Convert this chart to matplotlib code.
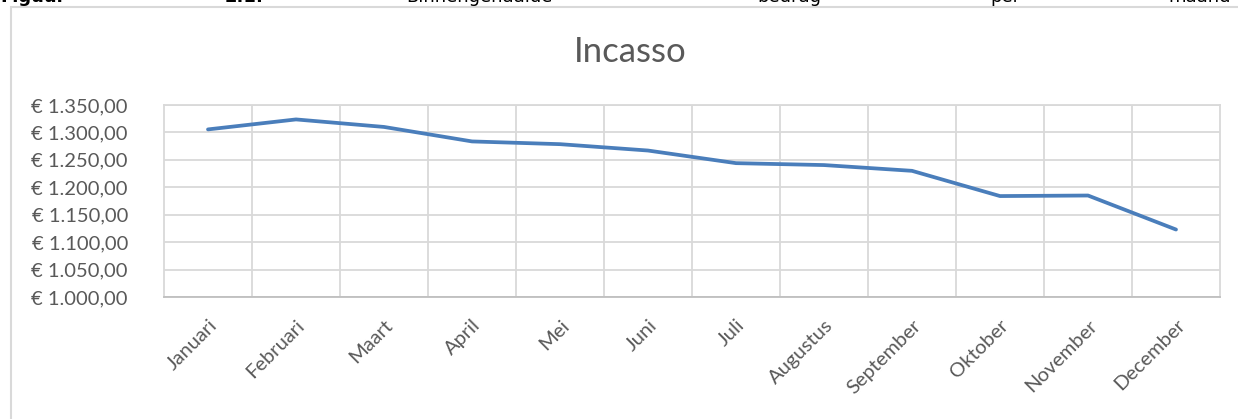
import matplotlib
matplotlib.use('Agg')
import matplotlib.pyplot as plt
from matplotlib.ticker import FuncFormatter, MultipleLocator
from matplotlib.patches import Rectangle

maanden = ['Januari', 'Februari', 'Maart', 'April', 'Mei', 'Juni', 'Juli',
           'Augustus', 'September', 'Oktober', 'November', 'December']
incasso = [1305.5, 1323.7, 1310.0, 1283.6, 1278.6, 1267.0,
           1244.0, 1240.5, 1230.0, 1184.0, 1185.0, 1123.0]
kop_woorden = ['Figuur', '2.1:', 'Binnengehaalde', 'bedrag', 'per', 'maand']

plt.rcParams['font.family'] = ['Lato', 'DejaVu Sans']

W, H = 1238, 419
fig = plt.figure(figsize=(W / 100, H / 100), dpi=100)

# caption line above the chart, cut off at the top edge like in the document
kop_x = [0, 225, 406, 757, 990, 1168]
for i, (w, x) in enumerate(zip(kop_woorden, kop_x)):
    fig.text(x / W, 1 - 2 / H, w, fontsize=13, color='black',
             fontweight='bold' if i < 2 else 'normal',
             family=['DejaVu Sans'], va='baseline', ha='left')

# chart frame
fig.patches.append(Rectangle((11 / W, -0.1), 1.2, 1.1 - 7 / H,
                             transform=fig.transFigure, fill=False,
                             edgecolor='#d9d9d9', linewidth=1.5))

ax = fig.add_axes([164 / W, 1 - 297 / H, (1220 - 164) / W, (297 - 105) / H])
x = list(range(len(maanden)))
ax.plot(x, incasso, color='#4a7ebb', linewidth=2.7, solid_capstyle='round',
        solid_joinstyle='round', zorder=3)

ax.set_xlim(-0.5, len(maanden) - 0.5)
ax.set_ylim(1000, 1350)
ax.yaxis.set_major_locator(MultipleLocator(50))


def euro(v, pos):
    s = '{:,.2f}'.format(v).replace(',', 'X').replace('.', ',').replace('X', '.')
    return '€ ' + s


ax.yaxis.set_major_formatter(FuncFormatter(euro))
ax.set_xticks([i + 0.5 for i in x[:-1]], minor=False)
ax.set_xticks(x, minor=True)
ax.set_xticklabels([])
ax.set_xticklabels(maanden, minor=True, rotation=45, ha='right',
                   rotation_mode='anchor')
ax.tick_params(axis='x', which='both', length=0)
ax.tick_params(axis='x', which='minor', pad=14, labelsize=14.5, labelcolor='#595959')
ax.tick_params(axis='y', length=0, pad=26, labelsize=14.5, labelcolor='#595959')

ax.grid(True, which='major', color='#d9d9d9', linewidth=1.3)
ax.set_axisbelow(True)
for side in ['top', 'right', 'left']:
    ax.spines[side].set_color('#d9d9d9')
    ax.spines[side].set_linewidth(1.3)
ax.spines['bottom'].set_color('#bfbfbf')
ax.spines['bottom'].set_linewidth(1.3)

fig.text(630 / W, 1 - 52 / H, 'Incasso', fontsize=25, color='#595959',
         ha='center', va='center')

fig.savefig('out.png', dpi=100)
